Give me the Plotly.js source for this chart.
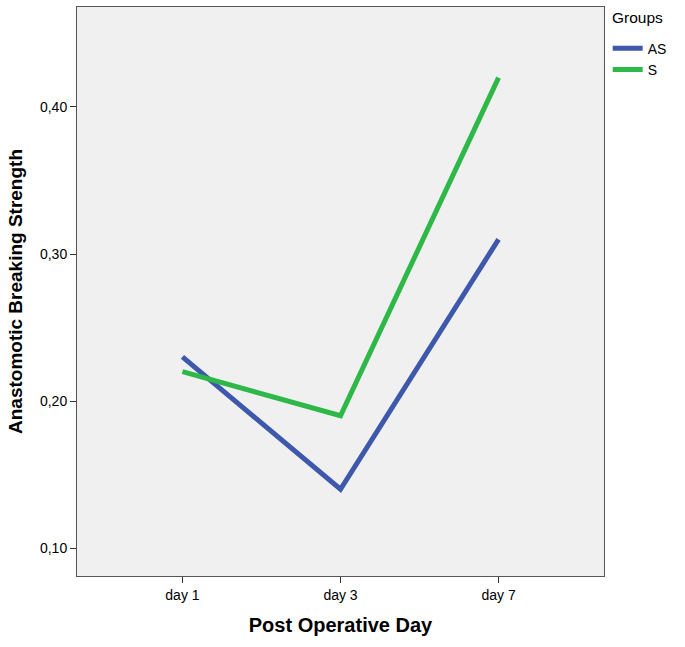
<!DOCTYPE html>
<html>
<head>
<meta charset="utf-8">
<script src="https://cdn.plot.ly/plotly-3.0.1.min.js"></script>
<style>html,body{margin:0;padding:0;background:#fff;}</style>
</head>
<body>
<div id="chart" style="width:685px;height:647px;"></div>
<script>
const days = ["day 1", "day 3", "day 7"];
const groupNames = ["AS", "S"];
const asValues = [0.23, 0.14, 0.31];
const sValues = [0.22, 0.19, 0.42];
const yTickVals = [0.10, 0.20, 0.30, 0.40];
const legendTitle = "Groups";

const traces = [
  {x: days, y: asValues, name: groupNames[0], type: "scatter", mode: "lines",
   line: {color: "#3E58AC", width: 5}},
  {x: days, y: sValues, name: groupNames[1], type: "scatter", mode: "lines",
   line: {color: "#2EB848", width: 5}}
];

const FONT = "Liberation Sans, Arial, sans-serif";

const layout = {
  width: 685, height: 647,
  margin: {l: 77, r: 81, t: 7, b: 71},
  paper_bgcolor: "#ffffff",
  plot_bgcolor: "#F0F0F0",
  separators: ", ",
  font: {family: FONT, color: "#000", size: 14},
  showlegend: true,
  legend: {
    x: 1.007, xanchor: "left", y: 0.955, yanchor: "top",
    font: {size: 14}, bgcolor: "rgba(0,0,0,0)",
    itemwidth: 30, tracegroupgap: 0
  },
  annotations: [{
    text: legendTitle, xref: "paper", yref: "paper",
    x: 1.012, xanchor: "left", y: 1.0, yanchor: "top", yshift: 0,
    showarrow: false, font: {size: 15.5, family: FONT, color: "#000"}
  }],
  xaxis: {
    type: "category", range: [-0.667, 2.667],
    showgrid: false, zeroline: false,
    showline: true, mirror: true, linecolor: "#555", linewidth: 1,
    ticks: "outside", ticklen: 6, tickcolor: "#333", tickwidth: 1,
    tickfont: {size: 14},
    title: {text: "Post Operative Day", font: {size: 20, family: FONT, weight: "bold"}, standoff: 16}
  },
  yaxis: {
    range: [0.081, 0.468],
    tickvals: yTickVals, tickformat: ".2f",
    showgrid: false, zeroline: false,
    showline: true, mirror: true, linecolor: "#555", linewidth: 1,
    ticks: "outside", ticklen: 6, tickcolor: "#333", tickwidth: 1,
    tickfont: {size: 14},
    title: {text: "Anastomotic Breaking Strength", font: {size: 19, family: FONT, weight: "bold"}, standoff: 12}
  }
};

Plotly.newPlot("chart", traces, layout, {displayModeBar: false, staticPlot: true});
</script>
</body>
</html>
